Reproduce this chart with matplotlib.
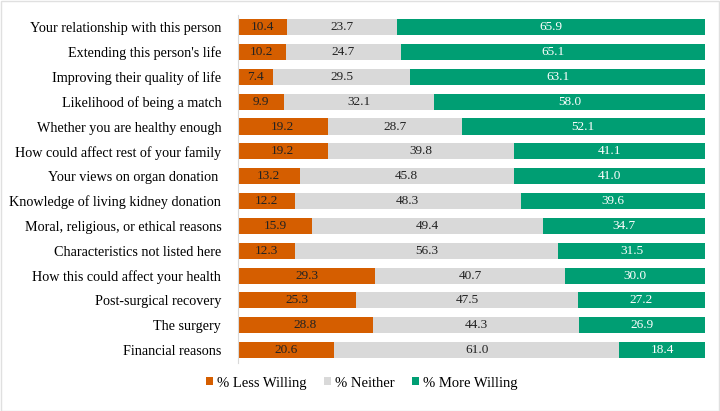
import matplotlib.pyplot as plt
from matplotlib.patches import Rectangle

plt.rcParams['font.family'] = ['Liberation Serif', 'DejaVu Serif']

categories = ["Your relationship with this person", "Extending this person's life",
              "Improving their quality of life", "Likelihood of being a match",
              "Whether you are healthy enough", "How could affect rest of your family",
              "Your views on organ donation ", "Knowledge of living kidney donation",
              "Moral, religious, or ethical reasons", "Characteristics not listed here",
              "How this could affect your health", "Post-surgical recovery",
              "The surgery", "Financial reasons"]
less = [10.4, 10.2, 7.4, 9.9, 19.2, 19.2, 13.2, 12.2, 15.9, 12.3, 29.3, 25.3, 28.8, 20.6]
neither = [23.7, 24.7, 29.5, 32.1, 28.7, 39.8, 45.8, 48.3, 49.4, 56.3, 40.7, 47.5, 44.3, 61.0]
more = [65.9, 65.1, 63.1, 58.0, 52.1, 41.1, 41.0, 39.6, 34.7, 31.5, 30.0, 27.2, 26.9, 18.4]

c_less = "#D55E00"
c_neither = "#D9D9D9"
c_more = "#009E73"

fig = plt.figure(figsize=(7.2, 4.11), dpi=100)
ax = fig.add_axes([0.3306, 0.118, 0.6486, 0.846])

y = list(range(len(categories)))
left2 = [a for a in less]
left3 = [a + b for a, b in zip(less, neither)]
h = 0.65
b1 = ax.barh(y, less, height=h, color=c_less, label="% Less Willing")
b2 = ax.barh(y, neither, left=left2, height=h, color=c_neither, label="% Neither")
b3 = ax.barh(y, more, left=left3, height=h, color=c_more, label="% More Willing")

ax.bar_label(b1, labels=[f"{v:.1f}" for v in less], label_type='center', fontsize=9.5, color="#222222")
ax.bar_label(b2, labels=[f"{v:.1f}" for v in neither], label_type='center', fontsize=9.5, color="#222222")
ax.bar_label(b3, labels=[f"{v:.1f}" for v in more], label_type='center', fontsize=9.5, color="white")

ax.set_xlim(0, 100)
ax.set_ylim(len(categories) - 0.5, -0.5)
ax.set_yticks(y)
ax.set_yticklabels(categories, fontsize=10.2)
ax.tick_params(axis='y', length=0, pad=12)
ax.set_xticks([])
for s in ['top', 'right', 'bottom']:
    ax.spines[s].set_visible(False)
ax.spines['left'].set_color("#D9D9D9")

fig.legend(handles=[b1, b2, b3], loc='center', bbox_to_anchor=(0.503, 0.068), ncol=3,
           frameon=False, fontsize=10.5, handlelength=0.45, handleheight=0.45,
           handletextpad=0.3, columnspacing=1.2)

fig.patches.append(Rectangle((0.001, 0.001), 0.997, 0.997, transform=fig.transFigure,
                             fill=False, edgecolor="#E0E0E0", linewidth=1))

fig.savefig("out.png", dpi=100)
